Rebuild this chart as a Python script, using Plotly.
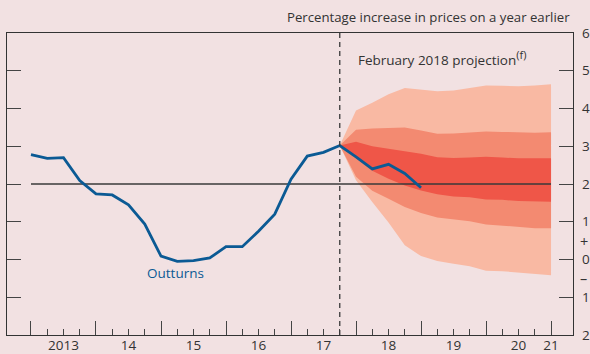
import plotly.graph_objects as go

# CPI inflation, quarterly, 2013 Q1 to 2019 Q1 (percentage change on a year earlier)
outturn_start = 2013.0
outturns = [2.78, 2.68, 2.70, 2.09, 1.74, 1.71, 1.45, 0.94, 0.09, -0.05, -0.03, 0.04,
            0.34, 0.34, 0.75, 1.20, 2.13, 2.74, 2.84, 3.02, 2.72, 2.40, 2.52, 2.28, 1.90]

# February 2018 projection fan, quarterly from 2017 Q4 to 2021 Q1
fan_start = 2017.75
fan_90_upper = [3.02, 3.95, 4.15, 4.38, 4.54, 4.50, 4.46, 4.48, 4.54, 4.61, 4.60, 4.59, 4.61, 4.64]
fan_60_upper = [3.02, 3.44, 3.47, 3.49, 3.50, 3.42, 3.33, 3.34, 3.36, 3.39, 3.38, 3.36, 3.36, 3.37]
fan_30_upper = [3.02, 3.12, 3.00, 2.94, 2.88, 2.80, 2.71, 2.69, 2.70, 2.72, 2.70, 2.68, 2.68, 2.68]
fan_30_lower = [3.02, 2.68, 2.35, 2.14, 1.96, 1.83, 1.73, 1.67, 1.65, 1.59, 1.58, 1.55, 1.54, 1.53]
fan_60_lower = [3.02, 2.19, 1.82, 1.61, 1.39, 1.23, 1.11, 1.05, 1.01, 0.93, 0.89, 0.86, 0.83, 0.83]
fan_90_lower = [3.02, 2.10, 1.52, 0.98, 0.38, 0.09, -0.04, -0.11, -0.18, -0.30, -0.31, -0.34, -0.38, -0.42]

inflation_target = 2.0
target_span = [2013.0, 2021.0]

year_ticks = list(range(2013, 2022))
year_label_pos = [2013.5, 2014.5, 2015.5, 2016.5, 2017.5, 2018.5, 2019.5, 2020.5, 2021.0]
year_labels = ["2013", "14", "15", "16", "17", "18", "19", "20", "21"]
y_ticks = [-2, -1, 0, 1, 2, 3, 4, 5, 6]
y_labels = ["2", "1", "0", "1", "2", "3", "4", "5", "6"]

BG = "#F2E1E2"
INK = "#333333"
BLUE = "#0B5A94"
FAN_LIGHT = "#F9B9A3"
FAN_MID = "#F38A71"
FAN_DARK = "#EF5648"
FONT = "Open Sans"

q_out = [outturn_start + i / 4 for i in range(len(outturns))]
q_fan = [fan_start + i / 4 for i in range(len(fan_90_upper))]

fig = go.Figure()


def band(upper, lower, colour):
    xs = q_fan + q_fan[::-1]
    ys = upper + lower[::-1]
    fig.add_trace(go.Scatter(x=xs, y=ys, fill="toself", fillcolor=colour,
                             line=dict(width=0), mode="lines", hoverinfo="skip",
                             showlegend=False))


band(fan_90_upper, fan_90_lower, FAN_LIGHT)
band(fan_60_upper, fan_60_lower, FAN_MID)
band(fan_30_upper, fan_30_lower, FAN_DARK)

# inflation target line
fig.add_trace(go.Scatter(x=target_span, y=[inflation_target] * 2, mode="lines",
                         line=dict(color="#3a3a3a", width=1.4), showlegend=False,
                         hoverinfo="skip"))

# start of the projection
fig.add_shape(type="line", xref="x", yref="paper", x0=fan_start, x1=fan_start,
              y0=0, y1=1, line=dict(color="#3a3a3a", width=1.3, dash="5px,4px"))

fig.add_trace(go.Scatter(x=q_out, y=outturns, mode="lines",
                         line=dict(color=BLUE, width=2.8), showlegend=False))

# invisible traces to activate the label axes
fig.add_trace(go.Scatter(x=[year_label_pos[0]], y=[0], xaxis="x2", mode="markers",
                         marker=dict(opacity=0), showlegend=False, hoverinfo="skip"))

x_range = [2012.631, 2021.338]
minor_vals = [y + q / 4 for y in range(2013, 2021) for q in (1, 2, 3)]

fig.add_trace(go.Scatter(x=[x_range[0]], y=[0], yaxis="y2", mode="markers",
                         marker=dict(opacity=0), showlegend=False, hoverinfo="skip"))

fig.update_layout(
    width=590, height=354,
    margin=dict(l=7, r=17, t=33, b=19),
    paper_bgcolor=BG, plot_bgcolor=BG,
    font=dict(family=FONT, color=INK, size=13),
    xaxis=dict(range=x_range, showgrid=False, zeroline=False, showline=True,
               linecolor=INK, linewidth=1.4, mirror=True, automargin=False,
               tickmode="array", tickvals=year_ticks, ticks="inside", ticklen=14,
               tickwidth=1.3, tickcolor="#444", showticklabels=False,
               minor=dict(tickmode="array", tickvals=minor_vals, ticks="inside",
                          ticklen=6, tickwidth=1.2, tickcolor="#444")),
    xaxis2=dict(range=x_range, overlaying="x", side="bottom", showgrid=False,
                zeroline=False, showline=False, tickmode="array", automargin=False,
                tickvals=year_label_pos, ticktext=year_labels, ticks="",
                tickfont=dict(size=13.5, color=INK)),
    yaxis=dict(range=[-2, 6], showgrid=False, zeroline=False, showline=True,
               linecolor=INK, linewidth=1.4, mirror=True, automargin=False,
               tickmode="array", tickvals=y_ticks, ticks="inside", ticklen=14,
               tickwidth=1.3, tickcolor="#444", showticklabels=False),
    yaxis2=dict(range=[-2, 6], overlaying="y", side="right", showgrid=False,
                zeroline=False, showline=False, tickmode="array",
                tickvals=y_ticks, ticktext=y_labels, ticks="inside", ticklen=14,
                tickwidth=1.3, tickcolor="#444", ticklabelstandoff=8,
                tickfont=dict(size=13.5, color=INK), automargin=False),
)

fig.add_annotation(text="Percentage increase in prices on a year earlier",
                   xref="paper", yref="paper", x=0.998, y=1.053,
                   xanchor="right", yanchor="middle", showarrow=False,
                   font=dict(size=13.2, color=INK))
fig.add_annotation(text="February 2018 projection"
                        "<sup><span style='font-size:11px'>(f)</span></sup>",
                   xref="x", yref="y", x=2018.0, y=5.33,
                   xanchor="left", yanchor="middle", showarrow=False,
                   font=dict(size=13.5, color=INK))
fig.add_annotation(text="Outturns", xref="x", yref="y", x=2015.23, y=-0.36,
                   xanchor="center", yanchor="middle", showarrow=False,
                   font=dict(size=13.5, color=BLUE))
for sign, yv in (("+", 0.48), ("\u2013", -0.5)):
    fig.add_annotation(text=sign, xref="paper", yref="y", x=1.009, y=yv,
                       xanchor="left", yanchor="middle", showarrow=False,
                       font=dict(size=14.5, color=INK))

fig.write_html("out.html", config={"displayModeBar": False})
